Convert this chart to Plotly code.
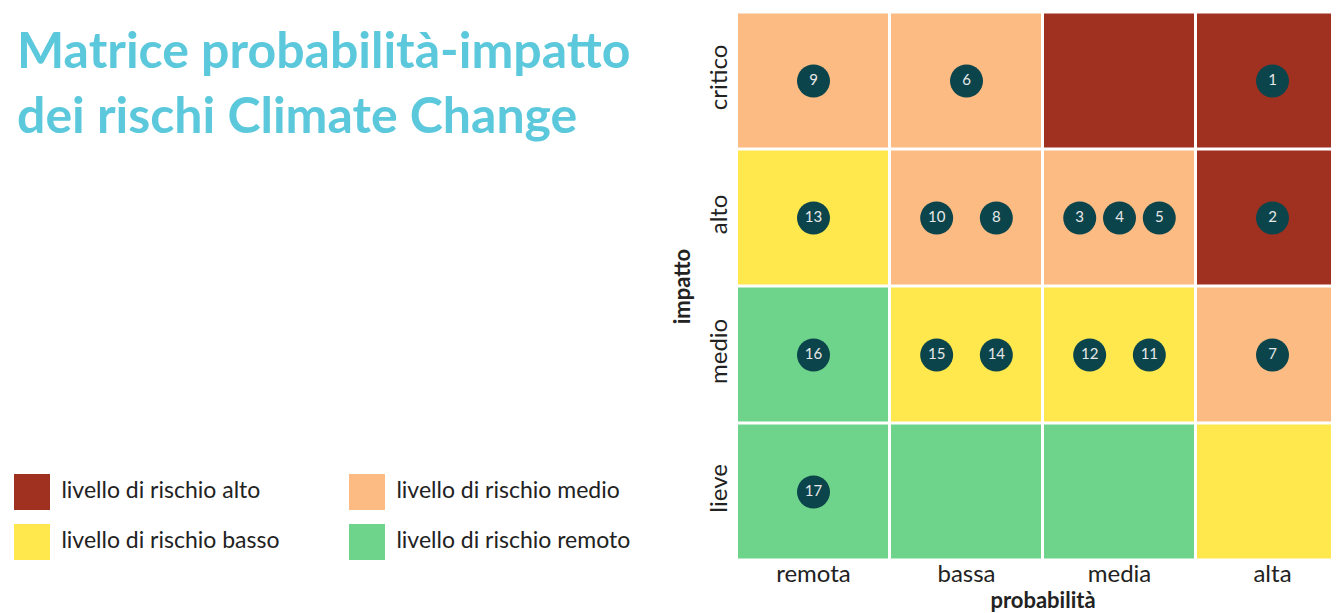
import plotly.graph_objects as go

# the page adds an 8px body margin, so figure pixels = page pixels - 8
W, H = 1341, 613

# axes categories
prob_labels = ["remota", "bassa", "media", "alta"]
impact_labels = ["lieve", "medio", "alto", "critico"]

# risk level of each cell (rows lieve..critico, cols remota..alta)
# 0 = remoto, 1 = basso, 2 = medio, 3 = alto
risk_level = [
    [0, 0, 0, 1],
    [0, 1, 1, 2],
    [1, 2, 2, 3],
    [2, 2, 3, 3],
]

# risks, listed in the order they sit inside each cell
risk_ids = [9, 6, 1, 13, 10, 8, 3, 4, 5, 2, 16, 15, 14, 12, 11, 7, 17]
risk_prob = ["remota", "bassa", "alta", "remota", "bassa", "bassa", "media", "media",
             "media", "alta", "remota", "bassa", "bassa", "media", "media", "alta", "remota"]
risk_impact = ["critico", "critico", "critico", "alto", "alto", "alto", "alto", "alto",
               "alto", "alto", "medio", "medio", "medio", "medio", "medio", "medio", "lieve"]

legend_names = ["livello di rischio alto", "livello di rischio medio",
                "livello di rischio basso", "livello di rischio remoto"]
level_colors = ["#6FD48B", "#FEE84D", "#FBBB83", "#A03120"]  # remoto, basso, medio, alto
legend_levels = [3, 2, 1, 0]

FONT = "Source Sans Pro, Lato, sans-serif"
TXT = "#222222"

# spread markers sharing a cell
xs, ys = [], []
for i, rid in enumerate(risk_ids):
    same = [j for j in range(len(risk_ids))
            if risk_prob[j] == risk_prob[i] and risk_impact[j] == risk_impact[i]]
    n = len(same)
    k = same.index(i)
    step = 0.78 / n
    xs.append(prob_labels.index(risk_prob[i]) + (k - (n - 1) / 2) * step)
    ys.append(impact_labels.index(risk_impact[i]))

fig = go.Figure()

fig.add_trace(go.Heatmap(
    z=risk_level,
    x=list(range(4)), y=list(range(4)),
    zmin=0, zmax=3,
    colorscale=[[0, level_colors[0]], [1 / 3, level_colors[1]],
                [2 / 3, level_colors[2]], [1, level_colors[3]]],
    showscale=False, xgap=3, ygap=3, hoverinfo="skip",
))

fig.add_trace(go.Scatter(
    x=xs, y=ys, mode="markers+text",
    text=[str(r) for r in risk_ids], textposition="middle center",
    textfont=dict(family=FONT, size=15, color="#E8E8E8"),
    marker=dict(size=33, color="#0B454B"),
    hoverinfo="skip", showlegend=False,
))

# legend built as a small scatter on its own axes
leg_col = [0, 1, 0, 1]
leg_row = [0, 0, 1, 1]
fig.add_trace(go.Scatter(
    x=leg_col, y=leg_row, mode="markers+text",
    text=[" " + n for n in legend_names], textposition="middle right",
    textfont=dict(family=FONT, size=23, color=TXT),
    marker=dict(symbol="square", size=36, color=[level_colors[l] for l in legend_levels]),
    xaxis="x2", yaxis="y2", hoverinfo="skip", showlegend=False, cliponaxis=False,
))

fig.update_layout(
    width=W, height=H,
    margin=dict(l=0, r=0, t=0, b=0),
    plot_bgcolor="white", paper_bgcolor="white",
    font=dict(family=FONT, color=TXT),
    showlegend=False,
    xaxis=dict(domain=[729 / W, 1], range=[-0.5, 3.5],
               tickvals=list(range(4)), ticktext=prob_labels,
               tickfont=dict(size=24, color=TXT), showgrid=False, zeroline=False,
               showline=False, ticks="", fixedrange=True, ticklabelstandoff=-4,
               title=dict(text="<b>probabilità</b>", font=dict(size=22, color=TXT), standoff=0)),
    yaxis=dict(domain=[60.5 / H, 1 - 4.5 / H], range=[-0.5, 3.5],
               tickvals=list(range(4)), ticktext=impact_labels, tickangle=-90,
               tickfont=dict(size=24, color=TXT), showgrid=False, zeroline=False,
               showline=False, ticks="", fixedrange=True, ticklabelstandoff=4,
               title=dict(text="<b>impatto</b>", font=dict(size=22, color=TXT), standoff=6)),
    xaxis2=dict(domain=[0, 670 / W], range=[-24 / 335, 646 / 335], visible=False,
                fixedrange=True),
    yaxis2=dict(domain=[0, 0.5], range=[129 / 50, -177.5 / 50], visible=False,
                fixedrange=True),
    annotations=[dict(
        text="<b>Matrice probabilità-impatto<br>dei rischi Climate Change</b>",
        x=7 / W, y=1 - 9 / H, xref="paper", yref="paper",
        xanchor="left", yanchor="top", align="left", showarrow=False,
        font=dict(family=FONT, size=50, color="#5BC8DC"),
    )],
)

fig.write_html("out.html")
